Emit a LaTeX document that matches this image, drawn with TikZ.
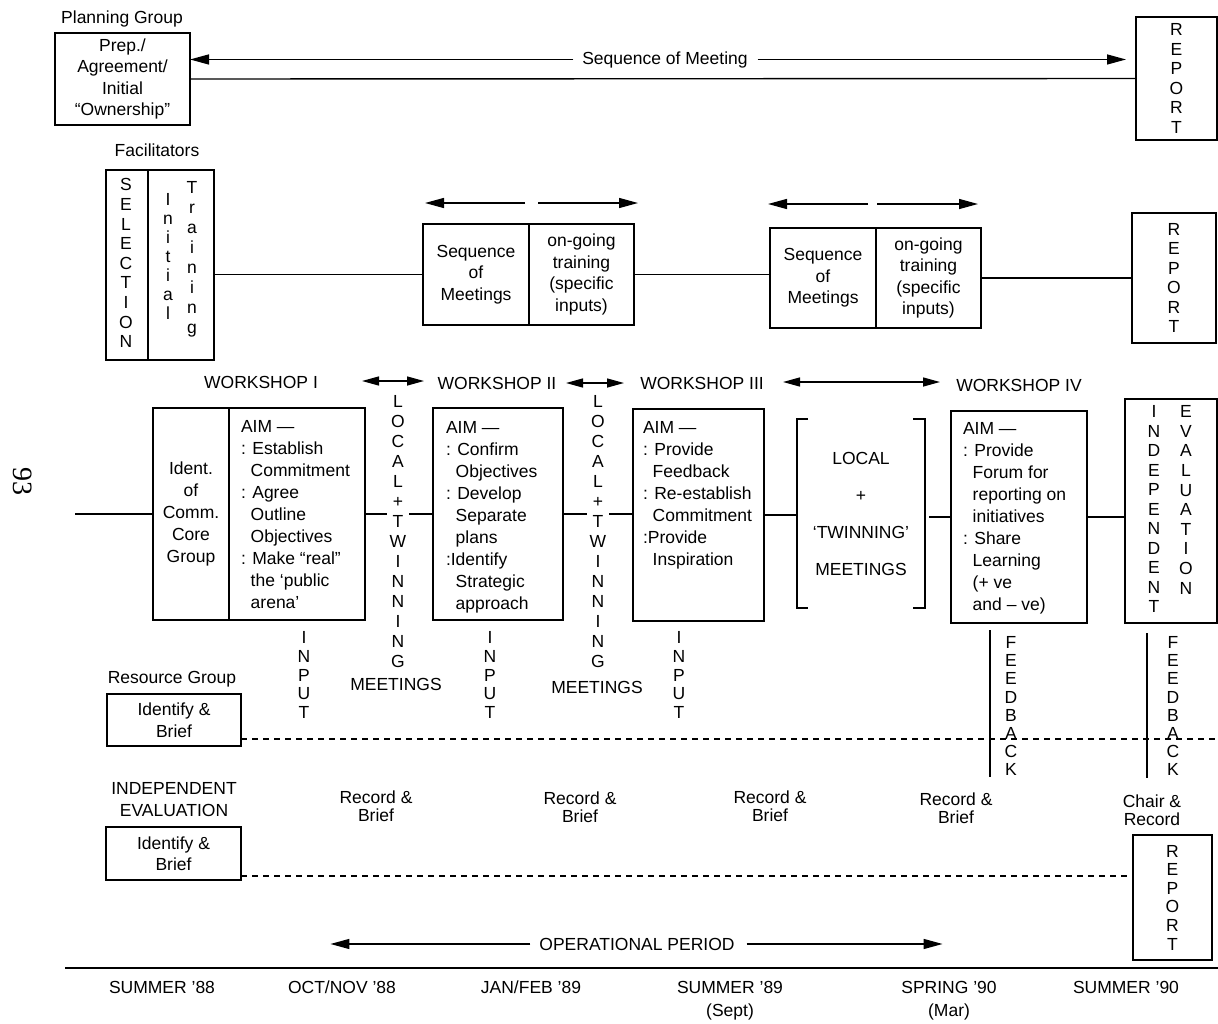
\documentclass[tikz,border=0pt]{standalone}
\usepackage{fontspec}
\setmainfont{Liberation Sans}
\newfontfamily\pagenumfont{Liberation Serif}
\usetikzlibrary{arrows.meta,fit,calc}
\newcommand{\hind}{\hphantom{:\ }}
\begin{document}
\begin{tikzpicture}[x=1pt,y=-1pt,
  every node/.style={inner sep=0pt, outer sep=0pt, font=\fontsize{17.5}{21.5}\selectfont},
  box/.style={draw, line width=1.4pt},
  ln/.style={line width=1.4pt},
  arr/.style={line width=1.4pt, -{Triangle[length=19pt,width=10pt]}},
  dbl/.style={line width=1.4pt, {Triangle[length=17pt,width=9pt]}-{Triangle[length=17pt,width=9pt]}},
  dsh/.style={line width=1.3pt, dash pattern=on 6pt off 5pt},
  vs/.style={align=center, font=\fontsize{17.5}{#1}\selectfont},
  txt/.style={align=center},
  lft/.style={align=left, anchor=north west, font=\fontsize{17.5}{22}\selectfont},
  lab/.style={anchor=base},
]
\useasboundingbox (0,0) rectangle (1218,1023);

% ---------- Planning group ----------
\node[lab] (pglab) at (122,23.5) {Planning Group};
\node[box, fit={(55,33)(190,125)}] (plan) {};
\node[txt] (plant) at (plan.center) {Prep./\\Agreement/\\Initial\\“Ownership”};
\node[box, fit={(1136,17)(1217,140)}] (rep1) {};
\node[vs=19.5] (rep1t) at (rep1.center) {R\\E\\P\\O\\R\\T};
\node[lab] (seqm) at (665,64) {Sequence of Meeting};
\draw[arr] ([xshift=-9pt]seqm.west) -- (plan.east |- seqm.west);
\draw[arr] ([xshift=10pt]seqm.east) -- ([xshift=-10pt]rep1.west |- seqm.east);
\draw[ln] (plan.east) -- (rep1.west);

% ---------- Facilitators ----------
\node[lab] (faclab) at (157,156) {Facilitators};
\node[box, fit={(106,170)(148,360)}] (sel1) {};
\node[box, fit={(148,170)(214,360)}] (sel2) {};
\node[vs=19.6, anchor=north] (selw) at (126,178.7) {S\\E\\L\\E\\C\\T\\I\\O\\N};
\node[vs=19, anchor=north] (initw) at (168,193.7) {I\\n\\i\\t\\i\\a\\l};
\node[vs=20, anchor=north] (trainw) at (192,181.7) {T\\r\\a\\i\\n\\i\\n\\g};

\node[box, fit={(423,224)(529,325)}] (s1a) {};
\node[txt] (s1at) at (s1a.center) {Sequence\\of\\Meetings};
\node[box, fit={(529,224)(634,325)}] (s1b) {};
\node[txt] (s1bt) at (s1b.center) {on-going\\training\\(specific\\inputs)};
\node[box, fit={(770,228)(876,328)}] (s2a) {};
\node[txt] (s2at) at (s2a.center) {Sequence\\of\\Meetings};
\node[box, fit={(876,228)(981,328)}] (s2b) {};
\node[txt] (s2bt) at (s2b.center) {on-going\\training\\(specific\\inputs)};
\node[box, fit={(1132,213)(1216,343)}] (rep2) {};
\node[vs=19.4] (rep2t) at (rep2.center) {R\\E\\P\\O\\R\\T};

\draw[ln] (sel2.east |- s1a.west) -- (s1a.west);
\draw[ln] (s1b.east) -- (s1b.east -| s2a.west);
\draw[ln] (s2b.east) -- (s2b.east -| rep2.west);

\draw[arr] ([xshift=-4pt,yshift=21pt]s1a.north east) -- ([xshift=2pt,yshift=21pt]s1a.north west);
\draw[arr] ([xshift=9pt,yshift=21pt]s1b.north west) -- ([xshift=4pt,yshift=21pt]s1b.north east);
\draw[arr] ([xshift=-8pt,yshift=24pt]s2a.north east) -- ([xshift=-2pt,yshift=24pt]s2a.north west);
\draw[arr] ([xshift=1pt,yshift=24pt]s2b.north west) -- ([xshift=-3pt,yshift=24pt]s2b.north east);

% ---------- Workshops ----------
\node[lab] (wk1) at (261,388) {WORKSHOP I};
\node[lab] (wk2) at (497,389) {WORKSHOP II};
\node[lab] (wk3) at (702,389) {WORKSHOP III};
\node[lab] (wk4) at (1019,391) {WORKSHOP IV};
\coordinate (d1a) at (362,381); \coordinate (d1b) at (424,381);
\coordinate (d2a) at (566,383); \coordinate (d2b) at (624,383);
\coordinate (d3a) at (783,382); \coordinate (d3b) at (940,382);
\draw[dbl] (d1a) -- (d1b);
\draw[dbl] (d2a) -- (d2b);
\draw[dbl] (d3a) -- (d3b);

\node[box, fit={(153,408)(229,620)}] (ws1a) {};
\node[txt, font=\fontsize{17.5}{22}\selectfont] (ws1at) at (ws1a.center) {Ident.\\of\\Comm.\\Core\\Group};
\node[box, fit={(229,408)(365,620)}] (ws1b) {};
\node[lft] (aim1) at (241,420) {AIM —\\: Establish\\\hind Commitment\\: Agree\\\hind Outline\\\hind Objectives\\: Make “real”\\\hind the ‘public\\\hind arena’};

\node[box, fit={(433,408)(563,620)}] (ws2) {};
\node[lft] (aim2) at (446,421) {AIM —\\: Confirm\\\hind Objectives\\: Develop\\\hind Separate\\\hind plans\\:Identify\\\hind Strategic\\\hind approach};

\node[box, fit={(633,409)(764,621)}] (ws3) {};
\node[lft] (aim3) at (643,421) {AIM —\\: Provide\\\hind Feedback\\: Re-establish\\\hind Commitment\\:Provide\\\hind Inspiration};

\node[fit={(797,419)(925,608)}] (lt) {};
\node[txt, font=\fontsize{17.5}{37}\selectfont] (ltt) at (lt.center) {LOCAL\\+\\‘TWINNING’\\MEETINGS};
\draw[ln] ([xshift=11pt]lt.north west) -- (lt.north west) -- (lt.south west) -- ([xshift=11pt]lt.south west);
\draw[ln] ([xshift=-12pt]lt.north east) -- (lt.north east) -- (lt.south east) -- ([xshift=-12pt]lt.south east);

\node[box, fit={(951,411)(1087,623)}] (ws4) {};
\node[lft] (aim4) at (963,422) {AIM —\\: Provide\\\hind Forum for\\\hind reporting on\\\hind initiatives\\: Share\\\hind Learning\\\hind (+ ve\\\hind and – ve)};

\node[box, fit={(1125,399)(1217,623)}] (ie) {};
\node[vs=19.5, anchor=north] (indw) at (1154,405.7) {I\\N\\D\\E\\P\\E\\N\\D\\E\\N\\T};
\node[vs=19.6, anchor=north] (evalw) at (1186,405.7) {E\\V\\A\\L\\U\\A\\T\\I\\O\\N};

% main line
\coordinate (mainstart) at (75,514);
\draw[ln] (mainstart) -- (ws1a.west);
\draw[ln] (ws1b.east) -- (ws2.west);
\draw[ln] (ws2.east) -- (ws2.east -| ws3.west);
\draw[ln] (ws3.east) -- (ws3.east -| lt.west);
\draw[ln] ([xshift=4pt]lt.east |- ws4.west) -- (ws4.west);
\draw[ln] (ws4.east) -- (ws4.east -| ie.west);

% local + twinning stacks
\node[vs=20, anchor=north, fill=white, inner xsep=3pt] (lt1) at (398,395.7) {L\\O\\C\\A\\L\\+\\T\\W\\I\\N\\N\\I\\N\\G};
\node[vs=20, anchor=north, fill=white, inner xsep=3pt] (lt2) at (598,395.7) {L\\O\\C\\A\\L\\+\\T\\W\\I\\N\\N\\I\\N\\G};
\node[lab] (mt1) at (396,690) {MEETINGS};
\node[lab] (mt2) at (597,693) {MEETINGS};

% inputs
\node[vs=18.7, anchor=north] (in1) at (304,631.7) {I\\N\\P\\U\\T};
\node[vs=18.7, anchor=north] (in2) at (490,631.7) {I\\N\\P\\U\\T};
\node[vs=18.7, anchor=north] (in3) at (679,631.7) {I\\N\\P\\U\\T};

% feedback
\node[vs=18.1, anchor=north] (fb1) at (1011,636.7) {F\\E\\E\\D\\B\\A\\C\\K};
\node[vs=18.1, anchor=north] (fb2) at (1173,636.7) {F\\E\\E\\D\\B\\A\\C\\K};
\draw[ln] (990,630) -- (990,777);
\draw[ln] (1147,633) -- (1147,778);

% ---------- Resource group ----------
\node[lab] (rglab) at (172,683) {Resource Group};
\node[box, fit={(107,694)(241,746)}] (rg) {};
\node[txt, font=\fontsize{17.5}{22}\selectfont] (rgt) at (rg.center) {Identify \&\\Brief};
\coordinate (rgend) at (1218,739);
\draw[dsh] (rg.east |- rgend) -- (rgend);

% ---------- Independent evaluation ----------
\node[txt, font=\fontsize{17.5}{22}\selectfont] (ielab) at (174,800) {INDEPENDENT\\EVALUATION};
\node[box, fit={(106,827)(241,880)}] (ieb) {};
\node[txt, font=\fontsize{17.5}{21}\selectfont] (iebt) at (ieb.center) {Identify \&\\Brief};
\node[box, fit={(1133,835)(1212,960)}] (rep3) {};
\node[vs=18.6] (rep3t) at (rep3.center) {R\\E\\P\\O\\R\\T};
\draw[dsh] ([yshift=-22.5pt]ieb.east) -- ([yshift=-22.5pt]ieb.east -| rep3.west);

\node[txt, font=\fontsize{17.5}{18.5}\selectfont] (rb1) at (376,806) {Record \&\\Brief};
\node[txt, font=\fontsize{17.5}{18.5}\selectfont] (rb2) at (580,807) {Record \&\\Brief};
\node[txt, font=\fontsize{17.5}{18.5}\selectfont] (rb3) at (770,806) {Record \&\\Brief};
\node[txt, font=\fontsize{17.5}{18.5}\selectfont] (rb4) at (956,808) {Record \&\\Brief};
\node[txt, font=\fontsize{17.5}{18.5}\selectfont] (cr) at (1152,810) {Chair \&\\Record};

% ---------- Operational period & timeline ----------
\node[lab] (op) at (637,950) {OPERATIONAL PERIOD};
\draw[arr] ([xshift=-9pt]op.west) -- ++(-200,0);
\draw[arr] ([xshift=12pt]op.east) -- ++(196,0);

\coordinate (tl0) at (65,968); \coordinate (tl1) at (1218,968);
\draw[line width=2.6pt] (tl0) -- (tl1);

\node[lab] (t1) at (162,993) {SUMMER '88};
\node[lab] (t2) at (342,993) {OCT/NOV '88};
\node[lab] (t3) at (531,993) {JAN/FEB '89};
\node[lab] (t4) at (730,993) {SUMMER '89};
\node[lab] (t4b) at (730,1016) {(Sept)};
\node[lab] (t5) at (949,993) {SPRING '90};
\node[lab] (t5b) at (949,1016) {(Mar)};
\node[lab] (t6) at (1126,993) {SUMMER '90};

% page number
\node[rotate=-90, font=\pagenumfont\fontsize{28}{30}\selectfont] (pg) at (23,481) {93};
\end{tikzpicture}
\end{document}
